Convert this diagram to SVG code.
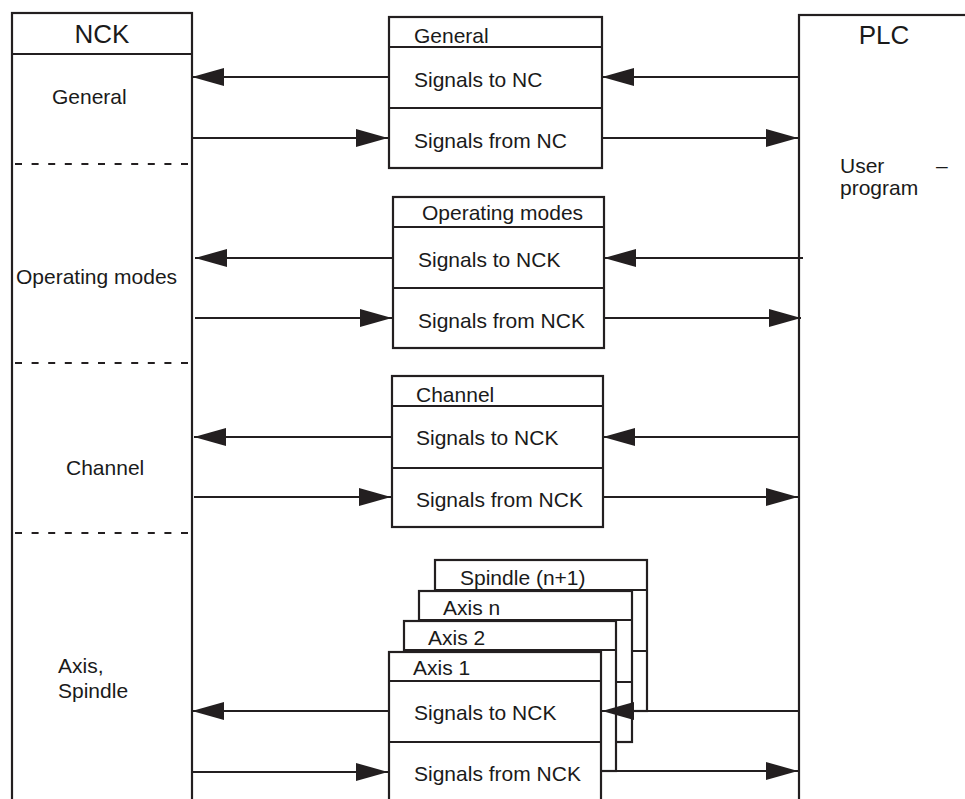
<svg xmlns="http://www.w3.org/2000/svg" width="965" height="799" viewBox="0 0 965 799">
<style>
.box{fill:#fff;stroke:#231f20;stroke-width:2.2}
.ln{stroke:#231f20;stroke-width:2.2;fill:none}
.dash{stroke:#231f20;stroke-width:2.2;stroke-dasharray:7 9.6;fill:none}
.t{font-family:"Liberation Sans",Arial,sans-serif;font-size:21px;fill:#1a1a1a}
.h{font-family:"Liberation Sans",Arial,sans-serif;font-size:26px;fill:#1a1a1a}
</style>
<defs>
<marker id="ah" viewBox="0 0 32 18" refX="32" refY="9" markerWidth="32" markerHeight="18" markerUnits="userSpaceOnUse" orient="auto">
<path d="M0,0 L32,9 L0,18 z" fill="#231f20"/>
</marker>
</defs>
<rect width="965" height="799" fill="#fff"/>
<g id="nck">
<rect class="box" x="12" y="13" width="180" height="800"/>
<line class="ln" x1="12" y1="54" x2="192" y2="54"/>
<text class="h" x="102" y="43" text-anchor="middle">NCK</text>
<text class="t" x="52" y="104">General</text>
<line class="dash" x1="15" y1="164" x2="190" y2="164"/>
<text class="t" x="16" y="284">Operating modes</text>
<line class="dash" x1="15" y1="363" x2="190" y2="363"/>
<text class="t" x="66" y="475">Channel</text>
<line class="dash" x1="15" y1="533" x2="190" y2="533"/>
<text class="t" x="58" y="673">Axis,</text>
<text class="t" x="58" y="698">Spindle</text>
</g>
<g id="plc">
<rect class="box" x="799" y="15" width="200" height="800"/>
<text class="h" x="884" y="44" text-anchor="middle">PLC</text>
<text class="t" x="840" y="173">User</text>
<text class="t" x="936" y="173">–</text>
<text class="t" x="840" y="195">program</text>
</g>
<g id="general">
<rect class="box" x="389" y="17" width="213" height="151"/>
<line class="ln" x1="389" y1="47" x2="602" y2="47"/>
<line class="ln" x1="389" y1="108" x2="602" y2="108"/>
<text class="t" x="414" y="43">General</text>
<text class="t" x="414" y="87">Signals to NC</text>
<text class="t" x="414" y="148">Signals from NC</text>
</g>
<g id="operating-modes">
<rect class="box" x="393" y="197" width="211" height="151"/>
<line class="ln" x1="393" y1="227" x2="604" y2="227"/>
<line class="ln" x1="393" y1="288" x2="604" y2="288"/>
<text class="t" x="422" y="220">Operating modes</text>
<text class="t" x="418" y="267">Signals to NCK</text>
<text class="t" x="418" y="328">Signals from NCK</text>
</g>
<g id="channel">
<rect class="box" x="392" y="376" width="211" height="151"/>
<line class="ln" x1="392" y1="406" x2="603" y2="406"/>
<line class="ln" x1="392" y1="468" x2="603" y2="468"/>
<text class="t" x="416" y="402">Channel</text>
<text class="t" x="416" y="445">Signals to NCK</text>
<text class="t" x="416" y="507">Signals from NCK</text>
</g>
<g id="spindle">
<rect class="box" x="435" y="560" width="212" height="151"/>
<line class="ln" x1="435" y1="590" x2="647" y2="590"/>
<line class="ln" x1="435" y1="651" x2="647" y2="651"/>
<text class="t" x="460" y="585">Spindle (n+1)</text>
</g>
<g id="axis-n">
<rect class="box" x="419" y="591" width="213" height="151"/>
<line class="ln" x1="419" y1="620" x2="632" y2="620"/>
<line class="ln" x1="419" y1="682" x2="632" y2="682"/>
<text class="t" x="443" y="615">Axis n</text>
</g>
<g id="axis-2">
<rect class="box" x="404" y="621" width="212" height="150"/>
<line class="ln" x1="404" y1="650" x2="616" y2="650"/>
<line class="ln" x1="404" y1="711" x2="616" y2="711"/>
<text class="t" x="428" y="645">Axis 2</text>
</g>
<g id="axis-1">
<rect class="box" x="389" y="652" width="212" height="155"/>
<line class="ln" x1="389" y1="681" x2="601" y2="681"/>
<line class="ln" x1="389" y1="742" x2="601" y2="742"/>
<text class="t" x="413" y="675">Axis 1</text>
<text class="t" x="414" y="720">Signals to NCK</text>
<text class="t" x="414" y="781">Signals from NCK</text>
</g>
<g id="connectors">
<line class="ln" x1="389" y1="77" x2="192" y2="77" marker-end="url(#ah)"/>
<line class="ln" x1="799" y1="77" x2="602" y2="77" marker-end="url(#ah)"/>
<line class="ln" x1="192" y1="138" x2="388" y2="138" marker-end="url(#ah)"/>
<line class="ln" x1="602" y1="138" x2="798" y2="138" marker-end="url(#ah)"/>
<line class="ln" x1="393" y1="258" x2="195" y2="258" marker-end="url(#ah)"/>
<line class="ln" x1="803" y1="258" x2="604" y2="258" marker-end="url(#ah)"/>
<line class="ln" x1="195" y1="318" x2="392" y2="318" marker-end="url(#ah)"/>
<line class="ln" x1="604" y1="318" x2="801" y2="318" marker-end="url(#ah)"/>
<line class="ln" x1="392" y1="437" x2="194" y2="437" marker-end="url(#ah)"/>
<line class="ln" x1="799" y1="437" x2="603" y2="437" marker-end="url(#ah)"/>
<line class="ln" x1="194" y1="497" x2="391" y2="497" marker-end="url(#ah)"/>
<line class="ln" x1="603" y1="497" x2="798" y2="497" marker-end="url(#ah)"/>
<line class="ln" x1="389" y1="711" x2="192" y2="711" marker-end="url(#ah)"/>
<line class="ln" x1="799" y1="711" x2="602" y2="711" marker-end="url(#ah)"/>
<line class="ln" x1="192" y1="772" x2="388" y2="772" marker-end="url(#ah)"/>
<line class="ln" x1="601" y1="771" x2="798" y2="771" marker-end="url(#ah)"/>
</g>
</svg>
